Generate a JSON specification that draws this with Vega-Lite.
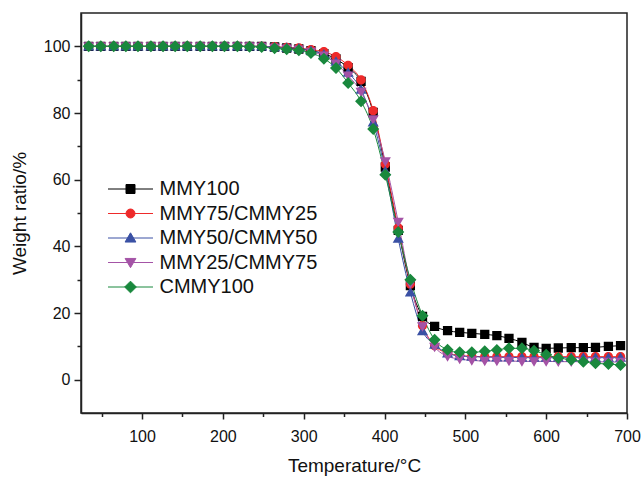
{
  "$schema": "https://vega.github.io/schema/vega-lite/v6.json",
  "width": 546,
  "height": 400,
  "autosize": {"type": "none"},
  "padding": {"left": 81, "top": 13, "right": 14, "bottom": 67},
  "background": "white",
  "config": {
    "font": "Liberation Sans",
    "view": {"stroke": "#222", "strokeWidth": 1.5},
    "axis": {
      "domainColor": "#222", "domainWidth": 1.5, "tickColor": "#222", "tickWidth": 1.5,
      "labelColor": "#111", "labelFont": "Liberation Sans", "labelFontSize": 16,
      "titleFont": "Liberation Sans", "titleFontSize": 19, "titleFontWeight": "normal", "titleColor": "#111",
      "grid": false
    },
    "legend": {"labelFont": "Liberation Sans", "labelFontSize": 20, "labelColor": "#111"}
  },
  "data": {"values": [
    {"t":34,"MMY100":100,"MMY75/CMMY25":100,"MMY50/CMMY50":100,"MMY25/CMMY75":100,"CMMY100":100},
    {"t":49,"MMY100":100,"MMY75/CMMY25":100,"MMY50/CMMY50":100,"MMY25/CMMY75":100,"CMMY100":100},
    {"t":65,"MMY100":100,"MMY75/CMMY25":100,"MMY50/CMMY50":100,"MMY25/CMMY75":100,"CMMY100":100},
    {"t":80,"MMY100":100,"MMY75/CMMY25":100,"MMY50/CMMY50":100,"MMY25/CMMY75":100,"CMMY100":100},
    {"t":95,"MMY100":100,"MMY75/CMMY25":100,"MMY50/CMMY50":100,"MMY25/CMMY75":100,"CMMY100":100},
    {"t":111,"MMY100":100,"MMY75/CMMY25":100,"MMY50/CMMY50":100,"MMY25/CMMY75":100,"CMMY100":100},
    {"t":126,"MMY100":100,"MMY75/CMMY25":100,"MMY50/CMMY50":100,"MMY25/CMMY75":100,"CMMY100":100},
    {"t":141,"MMY100":100,"MMY75/CMMY25":100,"MMY50/CMMY50":100,"MMY25/CMMY75":100,"CMMY100":100},
    {"t":156,"MMY100":100,"MMY75/CMMY25":100,"MMY50/CMMY50":100,"MMY25/CMMY75":100,"CMMY100":100},
    {"t":172,"MMY100":100,"MMY75/CMMY25":100,"MMY50/CMMY50":100,"MMY25/CMMY75":100,"CMMY100":100},
    {"t":187,"MMY100":100,"MMY75/CMMY25":100,"MMY50/CMMY50":100,"MMY25/CMMY75":100,"CMMY100":100},
    {"t":202,"MMY100":100,"MMY75/CMMY25":100,"MMY50/CMMY50":100,"MMY25/CMMY75":100,"CMMY100":100},
    {"t":218,"MMY100":100,"MMY75/CMMY25":100,"MMY50/CMMY50":100,"MMY25/CMMY75":100,"CMMY100":100},
    {"t":233,"MMY100":100,"MMY75/CMMY25":100,"MMY50/CMMY50":100,"MMY25/CMMY75":100,"CMMY100":99.9},
    {"t":248,"MMY100":100,"MMY75/CMMY25":100,"MMY50/CMMY50":100,"MMY25/CMMY75":99.9,"CMMY100":99.8},
    {"t":264,"MMY100":99.8,"MMY75/CMMY25":99.9,"MMY50/CMMY50":99.8,"MMY25/CMMY75":99.6,"CMMY100":99.4},
    {"t":279,"MMY100":99.5,"MMY75/CMMY25":99.7,"MMY50/CMMY50":99.6,"MMY25/CMMY75":99.3,"CMMY100":99.1},
    {"t":294,"MMY100":99.2,"MMY75/CMMY25":99.5,"MMY50/CMMY50":99.4,"MMY25/CMMY75":99.0,"CMMY100":98.8},
    {"t":309,"MMY100":98.7,"MMY75/CMMY25":99.0,"MMY50/CMMY50":98.7,"MMY25/CMMY75":98.3,"CMMY100":98.0},
    {"t":325,"MMY100":97.8,"MMY75/CMMY25":98.4,"MMY50/CMMY50":97.6,"MMY25/CMMY75":97.2,"CMMY100":96.3},
    {"t":340,"MMY100":96.2,"MMY75/CMMY25":96.9,"MMY50/CMMY50":95.4,"MMY25/CMMY75":94.8,"CMMY100":93.5},
    {"t":355,"MMY100":93.6,"MMY75/CMMY25":94.3,"MMY50/CMMY50":92.1,"MMY25/CMMY75":91.2,"CMMY100":89.0},
    {"t":371,"MMY100":89.5,"MMY75/CMMY25":89.9,"MMY50/CMMY50":87.0,"MMY25/CMMY75":86.3,"CMMY100":83.5},
    {"t":386,"MMY100":80.2,"MMY75/CMMY25":80.7,"MMY50/CMMY50":77.2,"MMY25/CMMY75":78.1,"CMMY100":75.2},
    {"t":401,"MMY100":63.8,"MMY75/CMMY25":64.6,"MMY50/CMMY50":62.6,"MMY25/CMMY75":65.5,"CMMY100":61.5},
    {"t":417,"MMY100":44.8,"MMY75/CMMY25":45.5,"MMY50/CMMY50":42.3,"MMY25/CMMY75":47.3,"CMMY100":44.3},
    {"t":432,"MMY100":28.2,"MMY75/CMMY25":28.6,"MMY50/CMMY50":26.2,"MMY25/CMMY75":28.8,"CMMY100":30.0},
    {"t":447,"MMY100":19.0,"MMY75/CMMY25":16.2,"MMY50/CMMY50":14.6,"MMY25/CMMY75":16.0,"CMMY100":19.2},
    {"t":462,"MMY100":16.0,"MMY75/CMMY25":10.2,"MMY50/CMMY50":10.5,"MMY25/CMMY75":9.8,"CMMY100":12.0},
    {"t":478,"MMY100":14.7,"MMY75/CMMY25":8.0,"MMY50/CMMY50":7.9,"MMY25/CMMY75":7.0,"CMMY100":9.0},
    {"t":493,"MMY100":14.2,"MMY75/CMMY25":7.3,"MMY50/CMMY50":7.1,"MMY25/CMMY75":6.2,"CMMY100":8.2},
    {"t":508,"MMY100":13.9,"MMY75/CMMY25":7.0,"MMY50/CMMY50":6.9,"MMY25/CMMY75":5.8,"CMMY100":8.2},
    {"t":524,"MMY100":13.6,"MMY75/CMMY25":6.9,"MMY50/CMMY50":6.8,"MMY25/CMMY75":5.6,"CMMY100":8.5},
    {"t":539,"MMY100":13.2,"MMY75/CMMY25":6.9,"MMY50/CMMY50":6.7,"MMY25/CMMY75":5.6,"CMMY100":8.9},
    {"t":554,"MMY100":12.4,"MMY75/CMMY25":6.9,"MMY50/CMMY50":6.7,"MMY25/CMMY75":5.6,"CMMY100":9.4},
    {"t":570,"MMY100":11.2,"MMY75/CMMY25":6.9,"MMY50/CMMY50":6.6,"MMY25/CMMY75":5.5,"CMMY100":9.4},
    {"t":585,"MMY100":9.7,"MMY75/CMMY25":6.9,"MMY50/CMMY50":6.6,"MMY25/CMMY75":5.5,"CMMY100":8.7},
    {"t":600,"MMY100":9.4,"MMY75/CMMY25":6.9,"MMY50/CMMY50":6.6,"MMY25/CMMY75":5.5,"CMMY100":7.5},
    {"t":615,"MMY100":9.5,"MMY75/CMMY25":6.9,"MMY50/CMMY50":6.6,"MMY25/CMMY75":5.4,"CMMY100":6.5},
    {"t":631,"MMY100":9.6,"MMY75/CMMY25":6.9,"MMY50/CMMY50":6.6,"MMY25/CMMY75":5.4,"CMMY100":6.0},
    {"t":646,"MMY100":9.6,"MMY75/CMMY25":6.9,"MMY50/CMMY50":6.6,"MMY25/CMMY75":5.4,"CMMY100":5.4},
    {"t":661,"MMY100":9.7,"MMY75/CMMY25":6.9,"MMY50/CMMY50":6.6,"MMY25/CMMY75":5.4,"CMMY100":4.9},
    {"t":677,"MMY100":10.0,"MMY75/CMMY25":6.9,"MMY50/CMMY50":6.6,"MMY25/CMMY75":5.3,"CMMY100":4.7},
    {"t":692,"MMY100":10.2,"MMY75/CMMY25":6.9,"MMY50/CMMY50":6.6,"MMY25/CMMY75":5.3,"CMMY100":4.4}
  ]},
  "transform": [
    {"fold": ["MMY100", "MMY75/CMMY25", "MMY50/CMMY50", "MMY25/CMMY75", "CMMY100"], "as": ["series", "weight"]}
  ],
  "encoding": {
    "x": {
      "field": "t", "type": "quantitative",
      "scale": {"domain": [24.5, 700], "nice": false, "zero": false},
      "axis": {
        "title": "Temperature/°C",
        "values": [50,100,150,200,250,300,350,400,450,500,550,600,650,700],
        "labelExpr": "datum.value % 100 === 0 ? datum.label : ''",
        "tickSize": {"condition": {"test": "datum.value % 100 === 0", "value": 6}, "value": 3.5},
        "labelPadding": 9,
        "titlePadding": 12,
        "labelFlush": false
      }
    },
    "y": {
      "field": "weight", "type": "quantitative",
      "scale": {"domain": [-10, 110], "nice": false, "zero": false},
      "axis": {
        "title": "Weight ratio/%",
        "values": [0,10,20,30,40,50,60,70,80,90,100],
        "labelExpr": "datum.value % 20 === 0 ? datum.label : ''",
        "tickSize": {"condition": {"test": "datum.value % 20 === 0", "value": 7}, "value": 4},
        "labelPadding": 4,
        "titlePadding": 14
      }
    },
    "color": {
      "field": "series", "type": "nominal",
      "scale": {
        "domain": ["MMY100", "MMY75/CMMY25", "MMY50/CMMY50", "MMY25/CMMY75", "CMMY100"],
        "range": ["#000000", "#ee2a2a", "#3a50a4", "#a453a6", "#19883d"]
      },
      "legend": {
        "title": null, "orient": "none", "legendX": 39.5, "legendY": 166,
        "symbolSize": 81, "symbolOpacity": 1, "labelOffset": 19, "rowPadding": 4.5, "padding": 0,
        "encode": {"symbols": {"update": {"stroke": {"scale": "color", "field": "value"}, "strokeWidth": {"value": 1}}}}
      }
    }
  },
  "layer": [
    {
      "mark": {"type": "line", "strokeWidth": 1, "interpolate": "monotone"}
    },
    {
      "mark": {"type": "point", "filled": true, "opacity": 1, "size": 86, "strokeWidth": 0},
      "encoding": {
        "shape": {
          "field": "series", "type": "nominal",
          "scale": {
            "domain": ["MMY100", "MMY75/CMMY25", "MMY50/CMMY50", "MMY25/CMMY75", "CMMY100"],
            "range": [
              "M-5,0H5M-1,-1H1V1H-1Z",
              "M-5,0H5M1,0A1,1,0,1,1,-1,0A1,1,0,1,1,1,0Z",
              "M-5,0H5M0,-1.15L1.2,0.9H-1.2Z",
              "M-5,0H5M0,1.15L1.2,-0.9H-1.2Z",
              "M-5,0H5M0,-1.3L1.3,0L0,1.3L-1.3,0Z"
            ]
          },
          "legend": {
            "title": null, "orient": "none", "legendX": 39.5, "legendY": 166,
            "symbolSize": 81, "symbolOpacity": 1, "labelOffset": 19, "rowPadding": 4.5, "padding": 0,
            "encode": {"symbols": {"update": {"stroke": {"scale": "color", "field": "value"}, "strokeWidth": {"value": 1}}}}
          }
        }
      }
    }
  ]
}
